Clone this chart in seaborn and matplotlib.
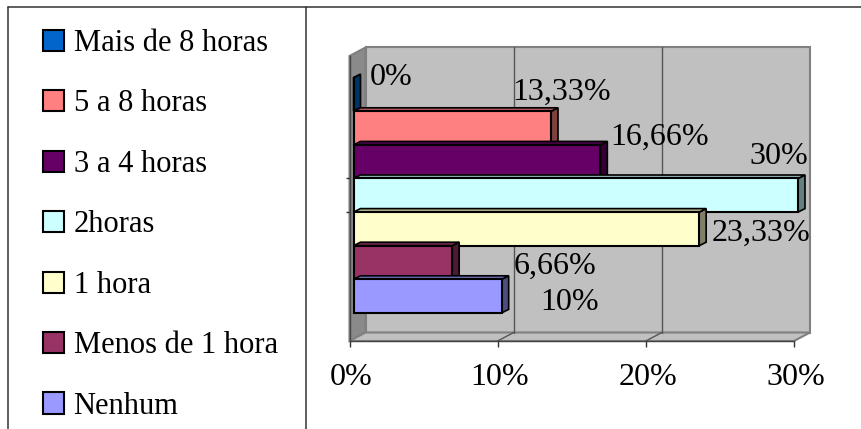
"""Horas por dia: barras horizontais com aparencia 3D."""

from __future__ import annotations

import matplotlib

matplotlib.use("Agg")

import matplotlib.pyplot as plt
import matplotlib.transforms as mtrans
import numpy as np
import pandas as pd
import seaborn as sns
from matplotlib.colors import to_rgb
from matplotlib.lines import Line2D
from matplotlib.patches import Polygon

FAIXAS = ["Mais de 8 horas", "5 a 8 horas", "3 a 4 horas", "2horas", "1 hora", "Menos de 1 hora", "Nenhum"]
VALORES = [0, 13.33, 16.66, 30, 23.33, 6.66, 10]
ROTULOS = ["0%", "13,33%", "16,66%", "30%", "23,33%", "6,66%", "10%"]
CORES = ["#0066CC", "#FF8080", "#660066", "#CCFFFF", "#FFFFCC", "#993366", "#9999FF"]
TICKS_X = [0, 10, 20, 30]
TICK_LABELS = ["0%", "10%", "20%", "30%"]

# layout, in pixels of the 861x429 canvas
W, H = 861, 429
LEFT, RIGHT, TOP, BOTTOM = 349.5, 794, 56, 341
PX_PCT = (RIGHT - LEFT) / 30
PX_CAT = 33.6
CAT0_Y = 94.5
LABEL_OFFSETS = [(42, 16.5), (15, 36), (63.4, 24.7), (-15, 38.3), (65.7, -4.1), (106.4, -3.5), (72, -5.9)]

sns.set_style("white")
plt.rcParams["font.family"] = ["Liberation Serif", "DejaVu Serif"]

df = pd.DataFrame({"faixa": FAIXAS, "valor": VALORES})

fig = plt.figure(figsize=(W / 100, H / 100), dpi=100)
ax = fig.add_axes([LEFT / W, 1 - BOTTOM / H, (RIGHT - LEFT) / W, (BOTTOM - TOP) / H])

sns.barplot(
    data=df, x="valor", y="faixa", hue="faixa", hue_order=FAIXAS, order=FAIXAS,
    palette=CORES, saturation=1, orient="h", dodge=False, width=1,
    edgecolor="black", linewidth=1.5, errorbar=None, legend=True, ax=ax,
)
# one container per hue level; ax.patches also holds the legend proxies
bars = sorted((b for c in ax.containers for b in c), key=lambda p: p.get_y())

ax.set_xlim(0, 30)
ax.set_ylim((BOTTOM - CAT0_Y) / PX_CAT, (TOP - CAT0_Y) / PX_CAT)
ax.patch.set_visible(False)

# walls and floor, pushed back by a fixed depth
wall_dx, wall_dy = 16 / PX_PCT, 8.5 / PX_CAT
y_bot, y_top = ax.get_ylim()
wall_kw = dict(clip_on=False, edgecolor="#808080", linewidth=1.5, zorder=0.5)
ax.add_patch(Polygon(
    [(wall_dx, y_top - wall_dy), (30 + wall_dx, y_top - wall_dy), (30 + wall_dx, y_bot - wall_dy), (wall_dx, y_bot - wall_dy)],
    facecolor="#C0C0C0", **wall_kw))
ax.add_patch(Polygon(
    [(0, y_top), (wall_dx, y_top - wall_dy), (wall_dx, y_bot - wall_dy), (0, y_bot)],
    facecolor="#8A8A8A", **wall_kw))
ax.add_patch(Polygon(
    [(0, y_bot), (wall_dx, y_bot - wall_dy), (30 + wall_dx, y_bot - wall_dy), (30, y_bot)],
    facecolor="#C0C0C0", **wall_kw))

for tick in TICKS_X[1:3]:
    ax.plot([tick + wall_dx, tick + wall_dx], [y_top - wall_dy, y_bot - wall_dy], color="#555555", lw=1, zorder=1, clip_on=False)
    ax.plot([tick, tick + wall_dx], [y_bot, y_bot - wall_dy], color="#555555", lw=1, zorder=1, clip_on=False)

# bars sit a little behind the front plane
shift = mtrans.ScaledTranslation(4 / 100, 0, fig.dpi_scale_trans)
bar_tf = ax.transData + shift
bar_dx, bar_dy = 7 / PX_PCT, 3.5 / PX_CAT
for i, (bar, cor) in enumerate(zip(bars, CORES)):
    x0, y0 = bar.get_x(), bar.get_y()
    x1, y1 = x0 + bar.get_width(), y0 + bar.get_height()
    rgb = np.array(to_rgb(cor))
    side = [(x1, y0), (x1 + bar_dx, y0 - bar_dy), (x1 + bar_dx, y1 - bar_dy), (x1, y1)]
    roof = [(x0, y0), (x1, y0), (x1 + bar_dx, y0 - bar_dy), (x0 + bar_dx, y0 - bar_dy)]
    z = 3 + i
    for pts, fator in ((side, 0.5), (roof, 0.7)):
        ax.add_patch(Polygon(pts, facecolor=rgb * fator, edgecolor="black", linewidth=1.2,
                             transform=bar_tf, zorder=z, clip_on=False))
    bar.set_transform(bar_tf)
    bar.set_zorder(z + 0.5)
    bar.set_clip_on(False)

for i, (valor, rotulo, (ox, oy)) in enumerate(zip(VALORES, ROTULOS, LABEL_OFFSETS)):
    ax.annotate(rotulo, xy=(valor, i), xytext=(ox, oy), textcoords="offset pixels",
                ha="center", va="center", fontsize=23, color="black", zorder=50)

ax.set_xlabel("")
ax.set_ylabel("")
ax.set_xticks(TICKS_X, TICK_LABELS)
ax.set_yticks([2.5, 3.5], ["", ""])
ax.tick_params(axis="x", bottom=True, length=4, width=1, color="#333333", labelsize=23, pad=12, labelcolor="black")
ax.tick_params(axis="y", left=True, length=3, width=1, color="#333333")
label_shift = mtrans.ScaledTranslation(2 / 100, 0, fig.dpi_scale_trans)
for label in ax.get_xticklabels():
    label.set_transform(label.get_transform() + label_shift)
for name, spine in ax.spines.items():
    spine.set_visible(name in ("bottom", "left"))
    spine.set_color("#444444")
    spine.set_linewidth(1)
    spine.set_zorder(2)

sns.move_legend(
    ax, "upper left", bbox_to_anchor=(43 / W, 1 - 29 / H), bbox_transform=fig.transFigure,
    title=None, frameon=False, fontsize=22, handlelength=0.7, handleheight=0.7,
    handletextpad=0.3, labelspacing=1.03, borderpad=0, borderaxespad=0, labelcolor="black",
)
ax.get_legend().set_zorder(60)

# outer frame of the page
frame = dict(color="#333333", linewidth=1.1, transform=fig.transFigure)
fig.add_artist(Line2D([8 / W, 1], [1 - 6.5 / H, 1 - 6.5 / H], **frame))
fig.add_artist(Line2D([8 / W, 8 / W], [0, 1 - 6.5 / H], **frame))
fig.add_artist(Line2D([306 / W, 306 / W], [0, 1 - 6.5 / H], **frame))

fig.savefig("out.png", dpi=100)
